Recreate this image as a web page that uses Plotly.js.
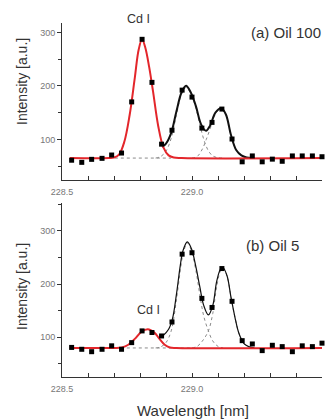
<!DOCTYPE html>
<html>
<head>
<meta charset="utf-8">
<script src="https://cdn.plot.ly/plotly-3.0.1.min.js"></script>
<style>html,body{margin:0;padding:0;background:#fff;}#chart{width:333px;height:419px;}</style>
</head>
<body>
<div id="chart"></div>
<script>
// ---- measured data: panel (a) Oil 100 ----
const wavelengthA = [228.537,228.576,228.614,228.654,228.691,228.729,228.768,228.808,228.846,228.883,228.923,228.962,229.0,229.038,229.077,229.115,229.154,229.193,229.232,229.27,229.309,229.347,229.386,229.424,229.463,229.5];
const intensityA  = [61,57,62.6,64.5,70.7,74.4,170,287,206.5,91,117,192,179,121,131.7,156.6,100.6,58,69,58,63,59,69,69,69,67.5];
const cdFitAx = [228.53,228.68,228.70,228.72,228.74,228.76,228.78,228.795,228.808,228.82,228.835,228.85,228.87,228.89,228.91,228.93,228.96,229.5];
const cdFitAy = [65,65,66,72,96,145,215,268,287,272,236,190,125,85,70,66,65,65];
const totalFitAx = [228.885,228.90,228.92,228.94,228.96,228.977,228.995,229.015,229.035,229.054,229.07,229.09,229.112,229.13,229.15,229.17,229.19,229.21,229.23];
const totalFitAy = [86,92,112,152,188,200,188,162,128,116,126,150,158,147,108,80,70,66,65];
const comp1Ax = [228.86,228.88,228.90,228.92,228.94,228.96,228.977,228.995,229.015,229.035,229.05,229.065,229.08,229.10,229.12];
const comp1Ay = [65,68,78,102,145,185,197,186,158,118,93,77,69,65.5,65];
const comp2Ax = [229.0,229.02,229.04,229.055,229.07,229.09,229.112,229.13,229.15,229.17,229.19,229.21,229.23];
const comp2Ay = [65,68,82,100,120,147,158,147,108,80,70,66,65];
const baseAx = [228.68,228.92];
const baseAy = [65,65];

// ---- measured data: panel (b) Oil 5 ----
const wavelengthB = [228.537,228.576,228.614,228.654,228.691,228.729,228.768,228.808,228.846,228.883,228.923,228.962,229.0,229.038,229.077,229.115,229.154,229.193,229.232,229.27,229.309,229.347,229.386,229.424,229.463,229.5];
const intensityB  = [81,77.5,73,77.5,84,77.5,90,112,109,102.5,128.7,256,258.7,173,156,229,167.5,93.7,87.5,75,85,82.5,73,84,82.5,89];
const cdFitBx = [228.53,228.70,228.73,228.755,228.78,228.805,228.83,228.855,228.875,228.895,228.915,228.94,229.5];
const cdFitBy = [80,80,81,86,97,110,115,109,97,86,81,80,80];
const totalFitBx = [228.875,228.89,228.91,228.925,228.94,228.955,228.965,228.982,228.998,229.015,229.03,229.045,229.063,229.08,229.095,229.11,229.12,229.135,229.15,229.165,229.18,229.20,229.22,229.24];
const totalFitBy = [100,104,115,135,180,235,262,279,266,232,195,160,142,160,205,228,230,215,175,138,108,88,82,80];
const comp1Bx = [228.86,228.88,228.90,228.92,228.94,228.955,228.965,228.982,228.998,229.015,229.03,229.045,229.063,229.08,229.10,229.12];
const comp1By = [80,82,90,112,170,225,255,277,262,225,180,140,112,93,83,80];
const comp2Bx = [229.0,229.02,229.04,229.063,229.08,229.095,229.11,229.12,229.135,229.15,229.165,229.18,229.20,229.22,229.24];
const comp2By = [80,83,93,112,145,195,225,230,215,175,138,108,88,82,80];
const baseBx = [228.68,229.0];
const baseBy = [80,80];

const xTickVals = [228.5,229.0,229.5];
const xTickText = ['228.5','229.0','229.5'];
const yTickVals = [100,200,300];
const yTickText = ['100','200','300'];

const RED = '#e3262b';
const DOT = {color:'#8a8a8a', width:1, dash:'dot'};

function panel(xa, ya, d, blackWidth) {
  return [
    {x:d.baseX, y:d.baseY, mode:'lines', line:DOT, xaxis:xa, yaxis:ya, hoverinfo:'skip'},
    {x:d.c1x, y:d.c1y, mode:'lines', line:Object.assign({shape:'spline'},DOT), xaxis:xa, yaxis:ya, hoverinfo:'skip'},
    {x:d.c2x, y:d.c2y, mode:'lines', line:Object.assign({shape:'spline'},DOT), xaxis:xa, yaxis:ya, hoverinfo:'skip'},
    {x:d.tx, y:d.ty, mode:'lines', line:{color:'#111', width:blackWidth, shape:'spline'}, xaxis:xa, yaxis:ya, hoverinfo:'skip'},
    {x:d.rx, y:d.ry, mode:'lines', line:{color:RED, width:2, shape:'spline'}, xaxis:xa, yaxis:ya, hoverinfo:'skip'},
    {x:d.px, y:d.py, mode:'markers', marker:{symbol:'square', size:5, color:'#000'}, cliponaxis:false, xaxis:xa, yaxis:ya}
  ];
}

const traces = [].concat(
  panel('x','y',{baseX:baseAx,baseY:baseAy,c1x:comp1Ax,c1y:comp1Ay,c2x:comp2Ax,c2y:comp2Ay,tx:totalFitAx,ty:totalFitAy,rx:cdFitAx,ry:cdFitAy,px:wavelengthA,py:intensityA}, 2),
  panel('x2','y2',{baseX:baseBx,baseY:baseBy,c1x:comp1Bx,c1y:comp1By,c2x:comp2Bx,c2y:comp2By,tx:totalFitBx,ty:totalFitBy,rx:cdFitBx,ry:cdFitBy,px:wavelengthB,py:intensityB}, 1.2)
);

const tickFont = {family:'Liberation Sans, Arial, sans-serif', size:9, color:'#777'};
function xax(anchor){
  return {anchor:anchor, range:[228.5,229.5], showgrid:false, zeroline:false, showline:true, linecolor:'#333', linewidth:1,
    tickmode:'array', tickvals:xTickVals, ticktext:xTickText, ticks:'inside', ticklen:4, tickcolor:'#333', ticklabelstandoff:3,
    minor:{dtick:0.1, tick0:228.5, ticks:'inside', ticklen:4, tickcolor:'#333'}, tickfont:tickFont, fixedrange:true};
}
function yax(anchor, range, domain){
  return {anchor:anchor, domain:domain, range:range, showgrid:false, zeroline:false, showline:true, linecolor:'#333', linewidth:1,
    tickmode:'array', tickvals:yTickVals, ticktext:yTickText, ticks:'outside', ticklen:4, tickcolor:'#333',
    minor:{dtick:50, tick0:0, ticks:'outside', ticklen:3, tickcolor:'#333'}, tickfont:tickFont, fixedrange:true};
}

const H = 419, L = 62, W = 260;
const px2x = p => (p - L) / W;
const py2y = p => 1 - p / H;
const annFont = {family:'Liberation Sans, Arial, sans-serif', color:'#333'};

const layout = {
  width:333, height:419, margin:{l:62, r:11, t:0, b:0}, showlegend:false,
  paper_bgcolor:'#fff', plot_bgcolor:'#fff',
  xaxis: xax('y'), yaxis: yax('x', [24,317.5], [py2y(180), py2y(23)]),
  xaxis2: xax('y2'), yaxis2: yax('x2', [25.5,352], [py2y(377), py2y(203)]),
  annotations:[
    {text:'Intensity [a.u.]', textangle:-90, xref:'paper', yref:'paper', x:px2x(22), y:py2y(82), xanchor:'center', yanchor:'middle', showarrow:false, font:Object.assign({size:14},annFont)},
    {text:'Intensity [a.u.]', textangle:-90, xref:'paper', yref:'paper', x:px2x(22), y:py2y(287), xanchor:'center', yanchor:'middle', showarrow:false, font:Object.assign({size:14},annFont)},
    {text:'Wavelength [nm]', xref:'paper', yref:'paper', x:px2x(193), y:py2y(410), xanchor:'center', yanchor:'middle', showarrow:false, font:Object.assign({size:15},annFont)},
    {text:'Cd I', xref:'paper', yref:'paper', x:px2x(138), y:py2y(19), xanchor:'center', yanchor:'middle', showarrow:false, font:Object.assign({size:12.5},annFont)},
    {text:'Cd I', xref:'paper', yref:'paper', x:px2x(148), y:py2y(310), xanchor:'center', yanchor:'middle', showarrow:false, font:Object.assign({size:12.5},annFont)},
    {text:'(a) Oil 100', xref:'paper', yref:'paper', x:px2x(286), y:py2y(32), xanchor:'center', yanchor:'middle', showarrow:false, font:Object.assign({size:15},annFont)},
    {text:'(b) Oil 5', xref:'paper', yref:'paper', x:px2x(272), y:py2y(245), xanchor:'center', yanchor:'middle', showarrow:false, font:Object.assign({size:15},annFont)}
  ]
};

Plotly.newPlot('chart', traces, layout, {staticPlot:true, displayModeBar:false});
</script>
</body>
</html>
